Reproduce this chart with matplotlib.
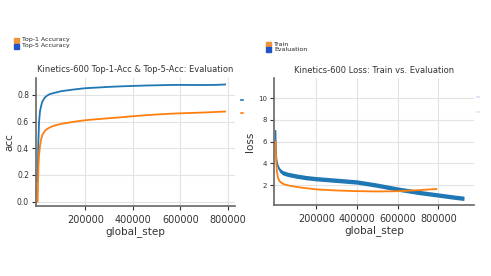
import matplotlib
matplotlib.use("Agg")
import matplotlib.pyplot as plt
from matplotlib.patches import Rectangle
from matplotlib.lines import Line2D
import numpy as np

# accuracy curves (evaluation)
acc_steps = [0, 3000, 6000, 10000, 15000, 20000, 30000, 40000, 50000, 70000,
             100000, 150000, 200000, 250000, 300000, 350000, 400000, 450000,
             500000, 550000, 600000, 650000, 700000, 750000, 788000]
top5 = [0.15, 0.45, 0.60, 0.68, 0.72, 0.75, 0.78, 0.795, 0.805, 0.815,
        0.828, 0.84, 0.85, 0.855, 0.86, 0.864, 0.867, 0.87,
        0.872, 0.874, 0.875, 0.874, 0.874, 0.875, 0.878]
top1 = [0.0, 0.25, 0.35, 0.42, 0.47, 0.50, 0.53, 0.545, 0.555, 0.57,
        0.583, 0.598, 0.61, 0.618, 0.625, 0.632, 0.64, 0.647,
        0.653, 0.658, 0.662, 0.665, 0.668, 0.672, 0.675]

# loss curves
eval_steps = [0, 2000, 5000, 10000, 20000, 35000, 60000, 100000, 150000, 200000,
              300000, 400000, 500000, 600000, 700000, 800000, 880000, 925000]
eval_loss = [7.0, 5.5, 4.3, 3.8, 3.4, 3.15, 3.0, 2.85, 2.7, 2.6,
             2.45, 2.3, 2.0, 1.65, 1.35, 1.1, 0.9, 0.8]
eval_spread = 0.2
train_steps = [0, 3000, 7000, 12000, 20000, 40000, 70000, 120000, 200000,
               300000, 400000, 500000, 600000, 700000, 790000]
train_loss = [6.0, 4.2, 3.2, 2.7, 2.35, 2.1, 1.95, 1.8, 1.62,
              1.52, 1.46, 1.43, 1.45, 1.55, 1.65]

blue = "#1f77b4"
orange = "#ff7f0e"

fig = plt.figure(figsize=(4.91, 2.76), dpi=100)


def style(ax):
    for s in ["top", "right"]:
        ax.spines[s].set_visible(False)
    for s in ["left", "bottom"]:
        ax.spines[s].set_color("#666666")
        ax.spines[s].set_linewidth(1.2)
    ax.grid(True, color="#e3e3e3", linewidth=0.8)
    ax.set_axisbelow(True)
    ax.tick_params(labelsize=7, colors="#333333", length=3, width=0.8)
    ax.tick_params(axis="y", labelsize=5.5, pad=2)
    ax.set_xlabel("global_step", fontsize=7.5, color="#333333", labelpad=1)


ax1 = fig.add_axes([0.0733, 0.2536, 0.405, 0.464])
style(ax1)
ax1.plot(acc_steps, top5, color=blue, linewidth=1.3)
ax1.plot(acc_steps, top1, color=orange, linewidth=1.3)
ax1.set_xlim(-7000, 829000)
ax1.set_ylim(-0.033, 0.927)
ax1.set_xticks([200000, 400000, 600000, 800000])
ax1.set_yticks([0.0, 0.2, 0.4, 0.6, 0.8])
ax1.set_ylabel("acc", fontsize=7.5, color="#333333", labelpad=2)
ax1.set_title("Kinetics-600 Top-1-Acc & Top-5-Acc: Evaluation", fontsize=6,
              color="#333333", pad=4)

ax2 = fig.add_axes([0.558, 0.257, 0.407, 0.46])
style(ax2)
lo = np.array(eval_loss) - eval_spread
hi = np.array(eval_loss) + eval_spread
ax2.fill_between(eval_steps, lo, hi, color=blue, linewidth=0)
ax2.plot(eval_steps, eval_loss, color=blue, linewidth=1.0)
ax2.plot(train_steps, train_loss, color=orange, linewidth=1.3)
ax2.set_xlim(-7700, 974000)
ax2.set_ylim(0.18, 11.84)
ax2.set_xticks([200000, 400000, 600000, 800000])
ax2.set_yticks([2, 4, 6, 8, 10])
ax2.tick_params(axis="y", labelsize=5)
ax2.set_ylabel("loss", fontsize=7.5, color="#333333", labelpad=2)
ax2.set_title("Kinetics-600 Loss: Train vs. Evaluation", fontsize=6,
              color="#333333", pad=4)

# legends drawn as patches in figure pixels
W, H = 491, 276


def legend_item(x, y, color, label):
    fig.patches.append(Rectangle((x / W, 1 - (y + 5) / H), 5 / W, 5 / H,
                                 transform=fig.transFigure, color=color))
    fig.text((x + 8) / W, 1 - (y + 2.5) / H, label, fontsize=4.5,
             va="center", ha="left", color="#222222")


legend_item(14, 37.5, "#f0943a", "Top-1 Accuracy")
legend_item(14, 43.5, "#1f55c8", "Top-5 Accuracy")
legend_item(266, 41.5, "#f0943a", "Train")
legend_item(266, 47, "#1f55c8", "Evaluation")

# little stray legend dots near the plot edges
for (px, py, c) in [(242, 100, blue), (242, 113, orange),
                    (478, 97, "#cfe0f0"), (478, 112, "#f8e0c8")]:
    fig.add_artist(Line2D([(px - 0.7) / W, (px + 0.7) / W], [1 - py / H, 1 - py / H],
                          transform=fig.transFigure, color=c, linewidth=1.2))

fig.savefig("out.png", dpi=100)
